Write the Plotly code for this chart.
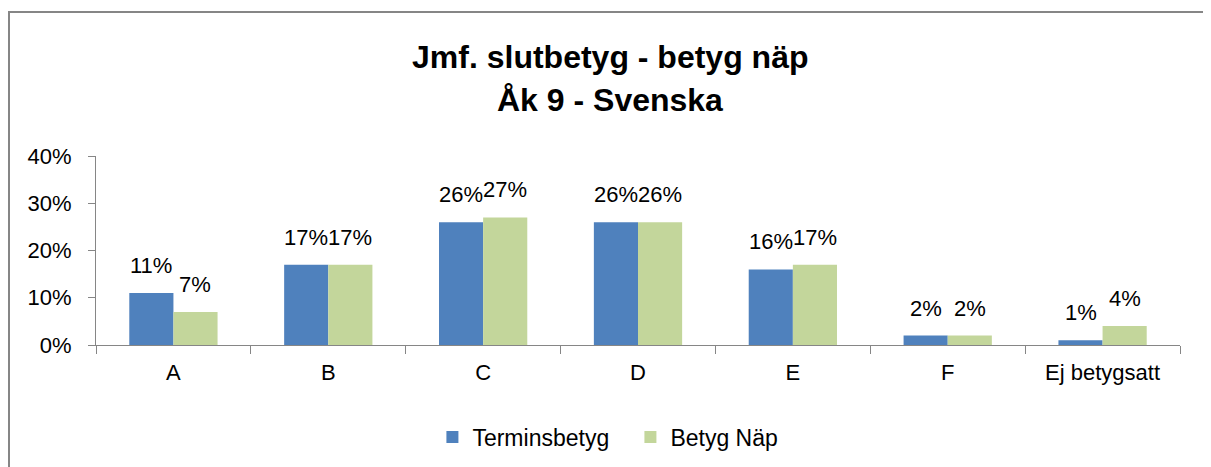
import plotly.graph_objects as go

categories = ["A", "B", "C", "D", "E", "F", "Ej betygsatt"]
terminsbetyg = [11, 17, 26, 26, 16, 2, 1]
betyg_nap = [7, 17, 27, 26, 17, 2, 4]
y_ticks = [0, 10, 20, 30, 40]
y_tick_labels = ["0%", "10%", "20%", "30%", "40%"]
title_lines = ["Jmf. slutbetyg - betyg näp", "Åk 9 - Svenska"]

FONT = "Liberation Sans"
BLUE = "#4F81BD"
GREEN = "#C3D69B"
GRAY = "#868686"

# page body has an 8px margin, so the figure is laid out 8px up/left
W, H = 1203, 459
PL, PT, PR, PB = 88, 148, 1172, 337   # plot area in figure pixels
PW, PH = PR - PL, PB - PT

fig = go.Figure()
fig.add_trace(go.Bar(x=categories, y=terminsbetyg, name="Terminsbetyg",
                     marker=dict(color=BLUE, line=dict(width=0))))
fig.add_trace(go.Bar(x=categories, y=betyg_nap, name="Betyg Näp",
                     marker=dict(color=GREEN, line=dict(width=0))))

# data labels
for series, shift in ((terminsbetyg, -22), (betyg_nap, 22)):
    for cat, v in zip(categories, series):
        fig.add_annotation(x=cat, y=v, xref="x", yref="y", text=f"{v}%",
                           showarrow=False, xshift=shift, yshift=13,
                           yanchor="bottom", xanchor="center",
                           font=dict(size=22, family=FONT, color="#000000"))

# title (two lines)
for line, yc in zip(title_lines, (49, 92)):
    fig.add_annotation(text=f"<b>{line}</b>", xref="paper", yref="paper",
                       x=(W / 2 - PL) / PW, y=(PB - yc) / PH,
                       xanchor="center", yanchor="middle", showarrow=False,
                       font=dict(size=32, family=FONT, color="#000000"))

fig.update_layout(
    width=W, height=H,
    margin=dict(l=PL, r=W - PR, t=PT, b=H - PB, autoexpand=False),
    paper_bgcolor="white", plot_bgcolor="white",
    font=dict(family=FONT, size=21, color="#000000"),
    barmode="group", bargap=0.43, bargroupgap=0,
    legend=dict(
        orientation="h", x=0.493, xanchor="center",
        y=-(429 - PB) / PH, yanchor="middle",
        font=dict(size=23, family=FONT), itemwidth=30,
        entrywidth=153, entrywidthmode="pixels",
    ),
    showlegend=True,
)
fig.update_yaxes(
    range=[0, 40], tickvals=y_ticks, ticktext=y_tick_labels,
    showgrid=False, showline=True, linecolor=GRAY, linewidth=1,
    ticks="outside", ticklen=7, tickcolor=GRAY, zeroline=False,
    tickfont=dict(size=22), ticklabelstandoff=12,
)
fig.update_xaxes(
    showgrid=False, showline=True, linecolor=GRAY, linewidth=1,
    ticks="outside", tickson="boundaries", ticklen=8, tickcolor=GRAY,
    tickfont=dict(size=22), ticklabelstandoff=8,
)
# outer chart border
fig.add_shape(type="rect", xref="paper", yref="paper",
              x0=(1 - PL) / PW, x1=(1200 - PL) / PW,
              y0=-(H + 10 - PB) / PH, y1=(PB - 4) / PH,
              line=dict(color=GRAY, width=2))
fig.write_html("out.html")
